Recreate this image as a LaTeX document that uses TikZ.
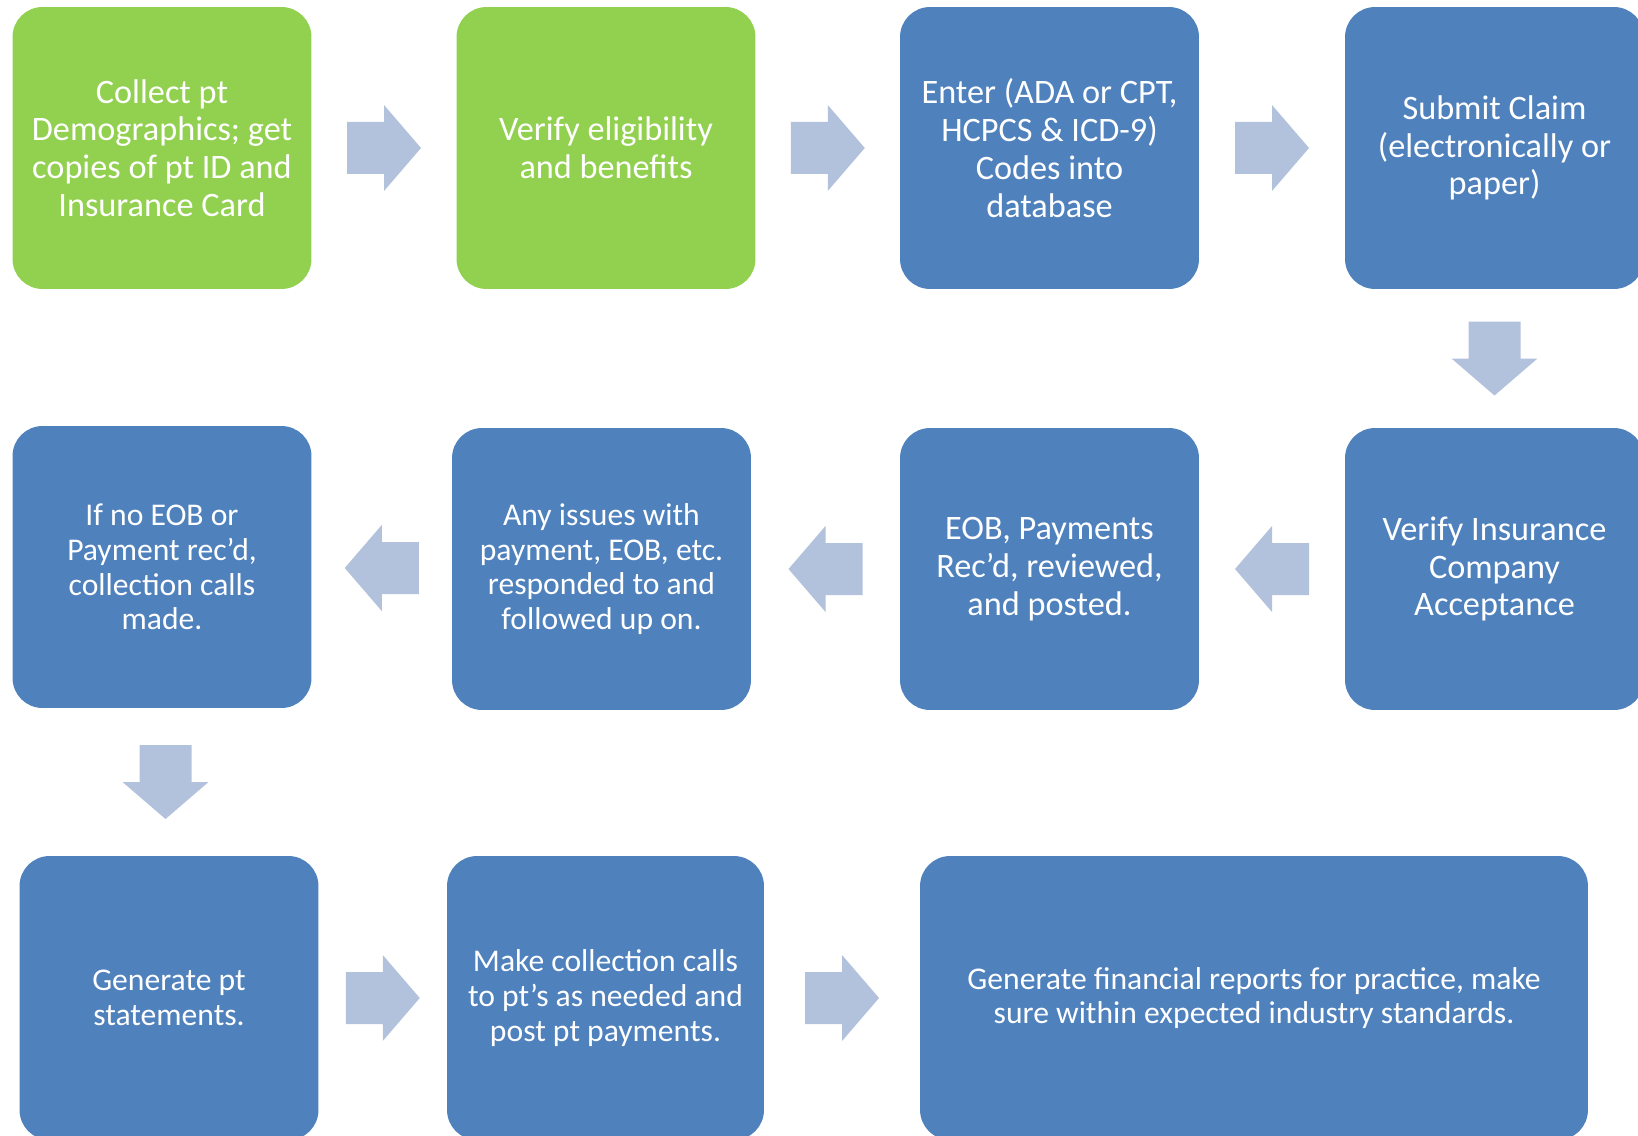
\documentclass[tikz,border=0pt]{standalone}
\usepackage{fontspec}
\setmainfont{Carlito}
\usepackage{xcolor}
\usetikzlibrary{calc}

\definecolor{stepgreen}{HTML}{92D050}
\definecolor{stepblue}{HTML}{4F81BD}
\definecolor{arrowblue}{HTML}{B2C1DC}

\tikzset{
  procbox/.style={rounded corners=0.6cm, minimum width=5.98cm, minimum height=5.64cm,
    align=center, text=white, inner sep=0pt, draw=none},
  greenbox/.style={procbox, fill=stepgreen},
  bluebox/.style={procbox, fill=stepblue},
  bigtext/.style={font=\fontsize{19.5}{21.5}\selectfont},
  smalltext/.style={font=\fontsize{18}{19.7}\selectfont},
  pics/flow/.style={code={
    \fill[arrowblue] (-37,-26) -- (0,-26) -- (0,-43) -- (37,0) -- (0,43) -- (0,26) -- (-37,26) -- cycle;
  }}
}

\begin{document}
\begin{tikzpicture}[x=0.02cm,y=-0.02cm]
    \useasboundingbox (0,0) rectangle (1638,1135);
    % first row
    \node[greenbox,bigtext] (c1) at (162,148) {Collect pt\\Demographics; get\\copies of pt ID and\\Insurance Card};
    \node[greenbox,bigtext] (c2) at (606,148) {Verify eligibility\\and benefits};
    \node[bluebox,bigtext] (c3) at (1049.5,148) {Enter (ADA or CPT,\\HCPCS \& ICD-9)\\Codes into\\database};
    \node[bluebox,bigtext] (c4) at (1494.5,148) {Submit Claim\\(electronically or\\paper)};
    % second row
    \node[bluebox,bigtext] (c5) at (1494.5,569) {Verify Insurance\\Company\\Acceptance};
    \node[bluebox,bigtext] (c6) at (1049.5,569) {EOB, Payments\\Rec'd, reviewed,\\and posted.};
    \node[bluebox,smalltext] (c7) at (601.5,569) {Any issues with\\payment, EOB, etc.\\responded to and\\followed up on.};
    \node[bluebox,smalltext] (c8) at (162,567) {If no EOB or\\Payment rec'd,\\collection calls\\made.};
    % third row
    \node[bluebox,smalltext,minimum height=5.68cm] (c9) at (169,998) {Generate pt\\statements.};
    \node[bluebox,smalltext,minimum height=5.68cm,minimum width=6.34cm] (c10) at (605.5,998) {Make collection calls\\to pt's as needed and\\post pt payments.};
    \node[bluebox,smalltext,minimum height=5.68cm,minimum width=13.36cm] (c11) at (1254,998) {Generate financial reports for practice, make\\sure within expected industry standards.};
    % block arrows between the boxes
    \pic (a12) at ($(c1.east)!.5!(c2.west)$) {flow};
    \pic (a23) at ($(c2.east)!.5!(c3.west)$) {flow};
    \pic (a34) at ($(c3.east)!.5!(c4.west)$) {flow};
    \pic[rotate=-90] (a45) at ($(c4.south)!.5!(c5.north)$) {flow};
    \pic[rotate=180] (a56) at ($(c5.west)!.5!(c6.east)$) {flow};
    \pic[rotate=180] (a67) at ($(c6.west)!.5!(c7.east)$) {flow};
    \pic[rotate=180] (a78) at ($(c7.west)!.5!(c8.east)$) {flow};
    \pic[rotate=-90] (a89) at ($(c8.south)!.5!(c9.north)$) {flow};
    \pic (a910) at ($(c9.east)!.5!(c10.west)$) {flow};
    \pic (a1011) at ($(c10.east)!.5!(c11.west)$) {flow};
\end{tikzpicture}
\end{document}
